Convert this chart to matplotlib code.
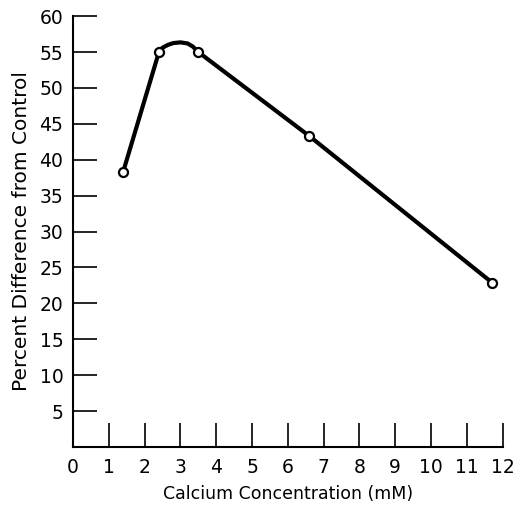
import matplotlib
matplotlib.use("Agg")
import matplotlib.pyplot as plt

# measured points (calcium mM vs % difference from control)
calcium = [1.4, 2.4, 3.5, 6.6, 11.7]
pct_diff = [38.3, 55.0, 55.0, 43.3, 22.9]

# hand-drawn connecting curve (arc between 2.4 and 3.5)
curve_x = [1.4, 2.4, 2.5, 2.65, 2.8, 3.0, 3.2, 3.35, 3.5, 6.6, 11.7]
curve_y = [38.3, 55.0, 55.6, 56.0, 56.25, 56.35, 56.2, 55.75, 55.0, 43.3, 22.9]

x_ticks = list(range(0, 13))
y_ticks = list(range(5, 61, 5))

plt.rcParams['font.family'] = ['DejaVu Sans']

fig = plt.figure(figsize=(5.14, 5.05), dpi=100)
ax = fig.add_axes([0.142, 0.115, 0.836, 0.853])

ax.plot(curve_x, curve_y, color='black', lw=3.0, solid_capstyle='round',
        solid_joinstyle='round', zorder=2)
ax.plot(calcium, pct_diff, linestyle='none', marker='o', ms=6.5,
        mfc='white', mec='black', mew=1.6, zorder=3)

ax.set_xlim(0, 12)
ax.set_ylim(0, 60)
ax.set_xticks(x_ticks)
ax.set_yticks(y_ticks)
ax.set_xticklabels([str(v) for v in x_ticks])
ax.set_yticklabels([str(v) for v in y_ticks])

for side in ['top', 'right']:
    ax.spines[side].set_visible(False)
for side in ['left', 'bottom']:
    ax.spines[side].set_linewidth(1.5)

ax.tick_params(axis='both', direction='in', length=17, width=1.2,
               labelsize=13.5, colors='black')
ax.tick_params(axis='y', pad=7)
ax.tick_params(axis='x', pad=8)

ax.set_xlabel('Calcium Concentration (mM)', fontsize=12.5, labelpad=6)
ax.set_ylabel('Percent Difference from Control', fontsize=14.5, labelpad=6)

fig.savefig('out.png', dpi=100, facecolor='white')
